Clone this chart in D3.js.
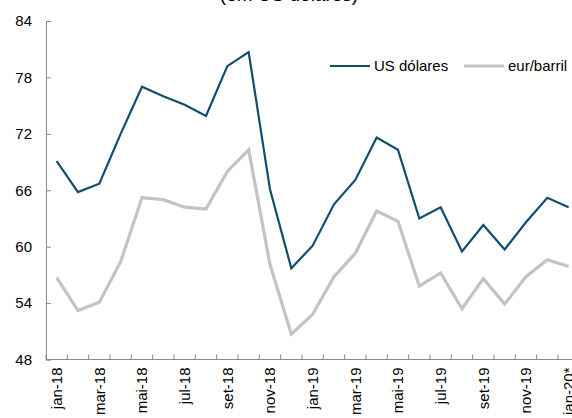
<!DOCTYPE html>
<html>
<head>
<meta charset="utf-8">
<script src="https://cdn.jsdelivr.net/npm/d3@7"></script>
<style>
  body { margin: 0; background: #fff; }
  svg { display: block; font-family: "Liberation Sans", Arial, sans-serif; }
</style>
</head>
<body>
<svg id="chart" width="572" height="418"></svg>
<script>
var months = ["jan-18","fev-18","mar-18","abr-18","mai-18","jun-18","jul-18","ago-18","set-18","out-18","nov-18","dez-18",
              "jan-19","fev-19","mar-19","abr-19","mai-19","jun-19","jul-19","ago-19","set-19","out-19","nov-19","dez-19","jan-20*"];
var usd = [69.1, 65.8, 66.7, 72.0, 77.0, 76.0, 75.1, 73.9, 79.2, 80.7, 66.1, 57.7,
           60.1, 64.5, 67.1, 71.6, 70.3, 63.0, 64.2, 59.5, 62.3, 59.7, 62.6, 65.2, 64.2];
var eur = [56.7, 53.2, 54.1, 58.4, 65.2, 65.0, 64.2, 64.0, 68.0, 70.3, 58.1, 50.7,
           52.8, 56.8, 59.3, 63.8, 62.7, 55.8, 57.2, 53.4, 56.6, 53.9, 56.8, 58.6, 57.9];
var yTicks = [48, 54, 60, 66, 72, 78, 84];
var labelMonths = months.filter(function(d, i) { return i % 2 === 0; });
var seriesNames = ["US dólares", "eur/barril"];

var colors = ["#114e6d", "#c3c3c3"],
    widths = [2.2, 3.2],
    axisColor = "#898989";

var svg = d3.select("#chart");

var x = d3.scaleBand().domain(months).range([46, 579.3]).padding(0),
    y = d3.scaleLinear().domain([48, 84]).range([359.5, 21]);

// titulo (cortado no topo)
svg.append("text")
    .attr("x", 289).attr("y", 0.5)
    .attr("text-anchor", "middle")
    .style("font-size", "19px")
    .attr("fill", "#000")
    .text("(em US dólares)");

// eixo y
var yAxis = svg.append("g")
    .attr("transform", "translate(46,0)")
    .call(d3.axisLeft(y).tickValues(yTicks).tickSize(-5).tickPadding(14).tickFormat(d3.format("d")));
yAxis.selectAll("text").style("font-size", "15px").attr("fill", "#000");

// eixo x
var xAxis = svg.append("g")
    .attr("transform", "translate(0," + y(48) + ")")
    .call(d3.axisBottom(x).tickValues(labelMonths).tickSize(0).tickFormat(function(d) { return d; }));
xAxis.select(".domain").remove();
xAxis.selectAll("text")
    .style("font-size", "15px")
    .attr("fill", "#000")
    .attr("text-anchor", "end")
    .attr("transform", "rotate(-90)")
    .attr("x", -8).attr("y", 0).attr("dy", "0.35em");

// ticks entre categorias
var bounds = months.map(function(d) { return x(d); });
svg.append("g").selectAll("line")
    .data(bounds)
  .enter().append("line")
    .attr("x1", function(d) { return d; })
    .attr("x2", function(d) { return d; })
    .attr("y1", y(48))
    .attr("y2", y(48) - 5)
    .attr("stroke", axisColor);
svg.append("line")
    .attr("x1", 46).attr("x2", 572)
    .attr("y1", y(48)).attr("y2", y(48))
    .attr("stroke", axisColor);

svg.selectAll(".domain, .tick line").attr("stroke", axisColor);

// linhas
var line = d3.line()
    .x(function(d, i) { return x(months[i]) + x.bandwidth() / 2; })
    .y(function(d) { return y(d); });

[eur, usd].forEach(function(s) {
  var idx = s === usd ? 0 : 1;
  svg.append("path")
      .datum(s)
      .attr("fill", "none")
      .attr("stroke", colors[idx])
      .attr("stroke-width", widths[idx])
      .attr("stroke-linejoin", "miter")
      .attr("d", line);
});

// legenda
var legendX = [330, 464];
var legend = svg.append("g").selectAll("g")
    .data(seriesNames)
  .enter().append("g")
    .attr("transform", function(d, i) { return "translate(" + legendX[i] + ",66)"; });
legend.append("line")
    .attr("x1", 0).attr("x2", 40)
    .attr("stroke", function(d, i) { return colors[i]; })
    .attr("stroke-width", function(d, i) { return widths[i]; });
legend.append("text")
    .attr("x", 44).attr("dy", "0.35em")
    .style("font-size", "15px")
    .text(function(d) { return d; });
</script>
</body>
</html>
